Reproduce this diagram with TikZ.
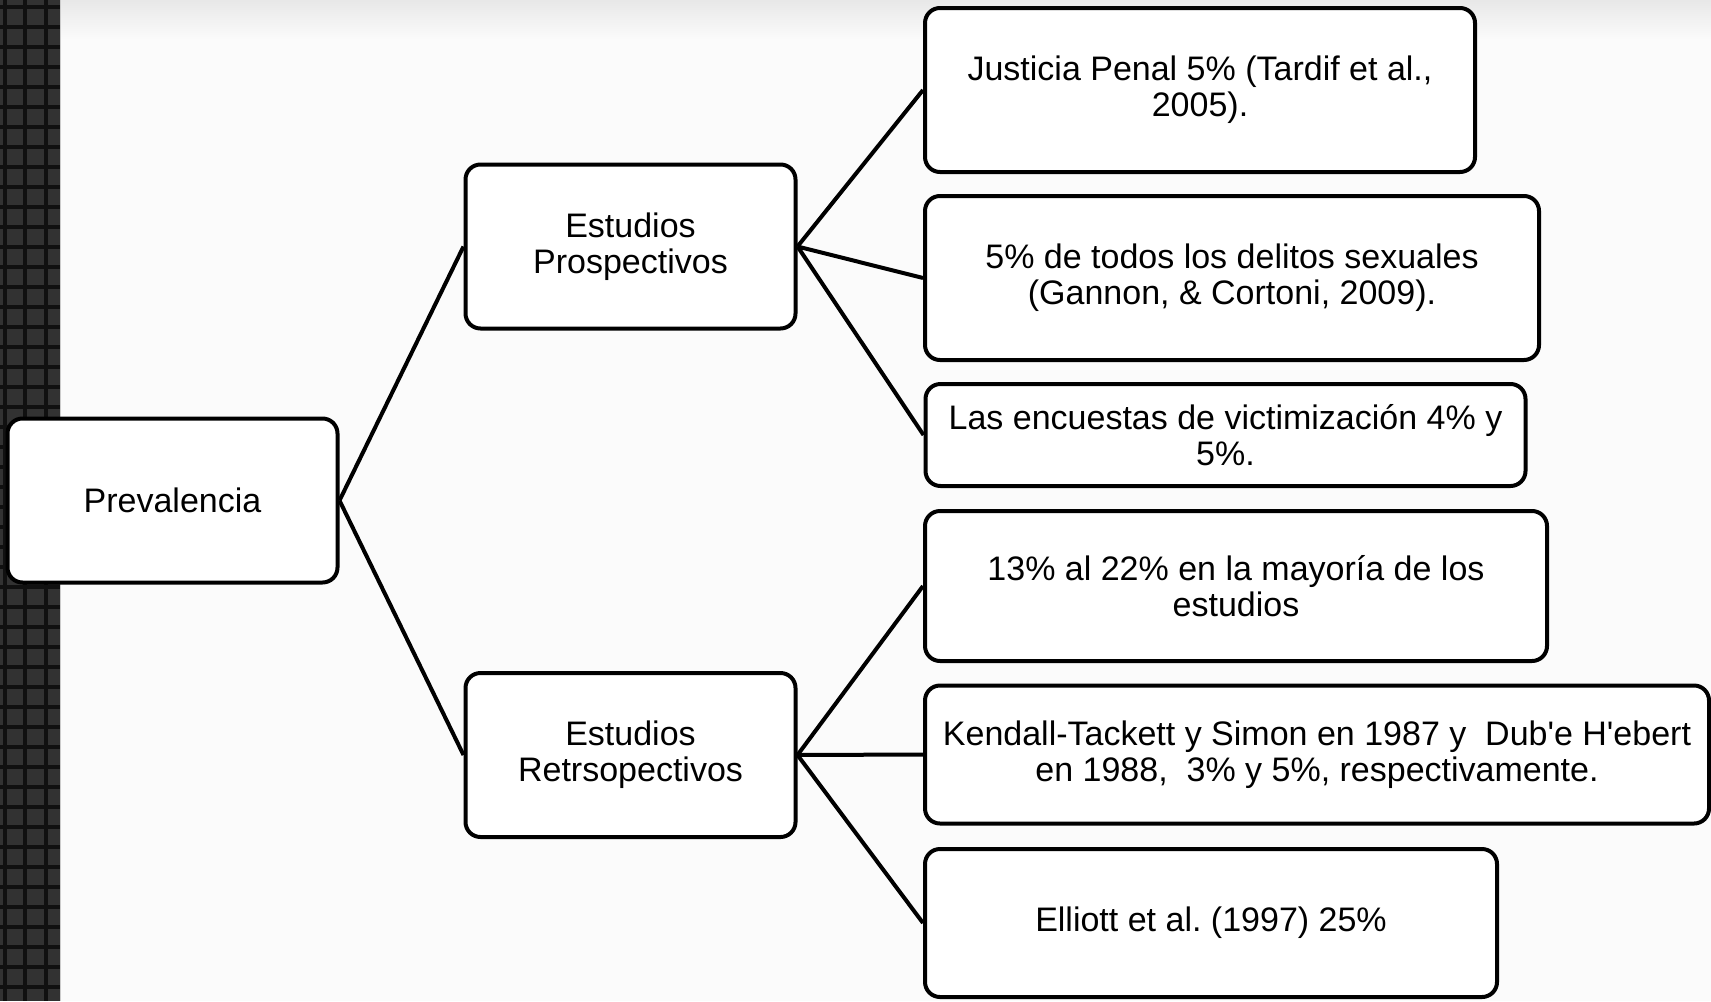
\documentclass[tikz,border=0pt]{standalone}
\usepackage{fontspec}
\setmainfont{Liberation Sans}
\definecolor{fondo}{RGB}{251,251,251}
\definecolor{fondoalto}{RGB}{232,232,232}
\definecolor{rejilla}{RGB}{50,50,50}
\definecolor{rejillalinea}{RGB}{16,16,16}
\tikzstyle{caja}=[draw=black, fill=white, line width=2pt, rounded corners=7.5pt, align=center, inner sep=2pt, font=\fontsize{17}{18}\selectfont\frenchspacing]
\tikzstyle{rama}=[draw=black, line width=2pt]

\begin{document}
\begin{tikzpicture}[x=0.5pt, y=-0.5pt]
			%Background and the dark strip on the left
			\useasboundingbox (0,0) rectangle (1711,1001);
			\fill[fondo] (0,0) rectangle (1711,1001);
			\shade[top color=fondoalto, bottom color=fondo] (0,0) rectangle (1711,40);
			\fill[rejilla] (0,0) rectangle (60,1001);
			\foreach \x in {5,25,46}
			\draw[rejillalinea, line width=2pt] (\x,0) -- (\x,1001);
			\foreach \y in {7,27,...,1001}
			\draw[rejillalinea, line width=2pt] (0,\y) -- (60,\y);
			\draw[white!80!black, line width=0.8pt] (60.5,0) -- (60.5,1001);
			%The main nodes
			\node[caja, minimum width=165pt, minimum height=82pt] (prev) at (172.5,500.5) {Prevalencia};
			\node[caja, minimum width=165pt, minimum height=82pt] (pros) at (630.5,246.5) {Estudios\\Prospectivos};
			\node[caja, minimum width=165pt, minimum height=82pt] (retro) at (630.5,755) {Estudios\\Retrsopectivos};
			%Prospective studies
			\node[caja, minimum width=275pt, minimum height=82pt] (just) at (1200,90) {Justicia Penal 5\% (Tardif et al.,\\2005).};
			\node[caja, minimum width=307pt, minimum height=82pt] (delit) at (1232,278) {5\% de todos los delitos sexuales\\(Gannon, \& Cortoni, 2009).};
			\node[caja, minimum width=300pt, minimum height=51pt] (encu) at (1225.5,435) {Las encuestas de victimización 4\% y\\5\%.};
			%Retrospective studies
			\node[caja, minimum width=311pt, minimum height=75pt] (mayor) at (1236,586) {13\% al 22\% en la mayoría de los\\estudios};
			\node[caja, minimum width=392pt, minimum height=69pt] (kend) at (1317,754.5) {Kendall-Tackett y Simon en 1987 y~ Dub\textquotesingle e H\textquotesingle ebert\\en 1988,~ 3\% y 5\%, respectivamente.};
			\node[caja, minimum width=286pt, minimum height=74pt] (elli) at (1211,923) {Elliott et al. (1997) 25\%};
			%Connectors
			\foreach \a/\b in {prev/pros, prev/retro, pros/just, pros/delit, pros/encu, retro/mayor, retro/kend, retro/elli}
			\draw[rama] (\a.east) -- (\b.west);
		\end{tikzpicture}
\end{document}
